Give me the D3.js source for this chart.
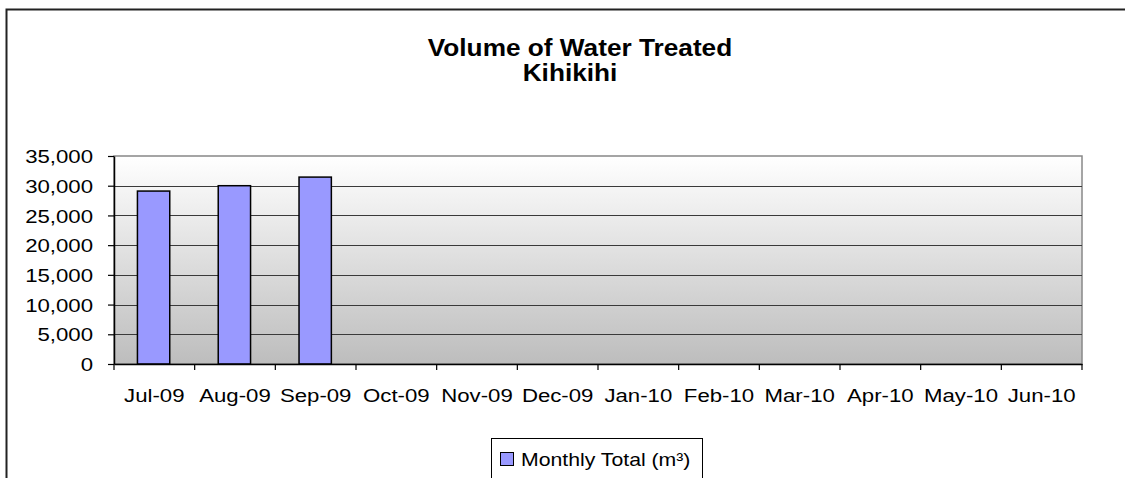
<!DOCTYPE html>
<html>
<head>
<meta charset="utf-8">
<script src="https://cdn.jsdelivr.net/npm/d3@7"></script>
<style>
  html, body { margin: 0; background: #fff; overflow: hidden; }
  svg { display: block; }
  text { font-family: "Liberation Sans", Arial, sans-serif; fill: #000; }
</style>
</head>
<body>
<div id="chart"></div>
<script>
// Chart data
const months = ["Jul-09", "Aug-09", "Sep-09", "Oct-09", "Nov-09", "Dec-09",
                "Jan-10", "Feb-10", "Mar-10", "Apr-10", "May-10", "Jun-10"];
const monthlyTotal = [29100, 30000, 31450, null, null, null, null, null, null, null, null, null];
const yTicks = [0, 5000, 10000, 15000, 20000, 25000, 30000, 35000];
const titleLines = ["Volume of Water Treated", "Kihikihi"];
const seriesName = "Monthly Total (m³)";

const width = 1125;
const height = 478;
const margin = { top: 156, right: 43, bottom: 114, left: 114 };
const sx = 1.2; // text in the source is stretched sideways

const svg = d3.select("#chart")
  .append("svg")
  .attr("width", width)
  .attr("height", height);

// Outer chart border: only the top and left edges are inside the picture
svg.append("path")
  .attr("d", `M6.5,${height} V9.5 H${width}`)
  .style("fill", "none")
  .style("stroke", "#222")
  .style("stroke-width", 2);

// Gradient for plot area
const grad = svg.append("defs").append("linearGradient")
  .attr("id", "plotBg")
  .attr("x1", 0).attr("y1", 0).attr("x2", 0).attr("y2", 1);
grad.append("stop").attr("offset", "0%").attr("stop-color", "#ffffff");
grad.append("stop").attr("offset", "100%").attr("stop-color", "#bdbdbd");

const plotW = width - margin.left - margin.right;
const plotH = height - margin.top - margin.bottom;

const g = svg.append("g")
  .attr("transform", `translate(${margin.left},${margin.top})`);

// Scales
const x = d3.scaleBand().domain(months).range([0, plotW]).padding(0);
const xBar = d3.scaleBand().domain(months).range([0, plotW])
  .paddingInner(0.6).paddingOuter(0.29).align(0.5);
const y = d3.scaleLinear().domain([0, 35000]).range([plotH, 0]);

// Plot background
g.append("rect")
  .attr("width", plotW)
  .attr("height", plotH)
  .style("fill", "url(#plotBg)")
  .style("stroke", "#888")
  .style("stroke-width", 1.5);

// Gridlines
g.selectAll(".grid")
  .data(yTicks.filter(d => d > 0 && d < 35000))
  .enter()
  .append("line")
  .attr("class", "grid")
  .attr("x1", 0)
  .attr("x2", plotW)
  .attr("y1", d => Math.round(y(d)) + 0.5)
  .attr("y2", d => Math.round(y(d)) + 0.5)
  .style("stroke", "#3a3a3a")
  .style("stroke-width", 1.2);

// Bars
g.selectAll(".bar")
  .data(months.map((m, i) => ({ month: m, value: monthlyTotal[i] })).filter(d => d.value != null))
  .enter()
  .append("rect")
  .attr("class", "bar")
  .attr("x", d => xBar(d.month))
  .attr("y", d => y(d.value))
  .attr("width", xBar.bandwidth())
  .attr("height", d => plotH - y(d.value))
  .style("fill", "#9999ff")
  .style("stroke", "#000")
  .style("stroke-width", 1.5);

// Y axis
const yAxis = g.append("g")
  .call(d3.axisLeft(y).tickValues(yTicks).tickFormat(d3.format(",")).tickSize(6).tickSizeOuter(0));
yAxis.select(".domain").style("stroke", "#000").style("stroke-width", 1.5);
yAxis.selectAll(".tick line").style("stroke", "#000").style("stroke-width", 1.2);
yAxis.selectAll(".tick text")
  .attr("x", -17.5)
  .attr("dy", "0.36em")
  .attr("transform", `scale(${sx},1)`)
  .style("font-size", "18.5px");

// X axis: labels at category centres, ticks at category boundaries
const xAxis = g.append("g")
  .attr("transform", `translate(0,${plotH})`)
  .call(d3.axisBottom(x).tickSize(0).tickSizeOuter(0));
xAxis.select(".domain").style("stroke", "#000").style("stroke-width", 1.5);
xAxis.selectAll(".tick text")
  .attr("y", 38)
  .attr("dy", 0)
  .attr("transform", `scale(${sx},1)`)
  .style("font-size", "18.5px");

const bounds = months.map(m => x(m)).concat([plotW]);
xAxis.selectAll(".bound")
  .data(bounds)
  .enter()
  .append("line")
  .attr("class", "bound")
  .attr("x1", d => d)
  .attr("x2", d => d)
  .attr("y1", 0)
  .attr("y2", 6)
  .style("stroke", "#000")
  .style("stroke-width", 1.2);

// Title
svg.selectAll(".title")
  .data(titleLines)
  .enter()
  .append("text")
  .attr("class", "title")
  .attr("transform", (d, i) => `translate(${i === 0 ? 580 : 570},${56 + i * 24.5}) scale(1.14,1)`)
  .attr("text-anchor", "middle")
  .style("font-size", "23px")
  .style("font-weight", "bold")
  .text(d => d);

// Legend
const legend = svg.append("g").attr("transform", "translate(491.5,438.5)");
legend.append("rect")
  .attr("width", 211)
  .attr("height", 40)
  .style("fill", "#fff")
  .style("stroke", "#000")
  .style("stroke-width", 1);
legend.append("rect")
  .attr("x", 9)
  .attr("y", 14)
  .attr("width", 13)
  .attr("height", 13)
  .style("fill", "#9999ff")
  .style("stroke", "#000")
  .style("stroke-width", 1);
legend.append("text")
  .attr("transform", `translate(29.5,27.5) scale(1.18,1)`)
  .style("font-size", "18px")
  .text(seriesName);
</script>
</body>
</html>
